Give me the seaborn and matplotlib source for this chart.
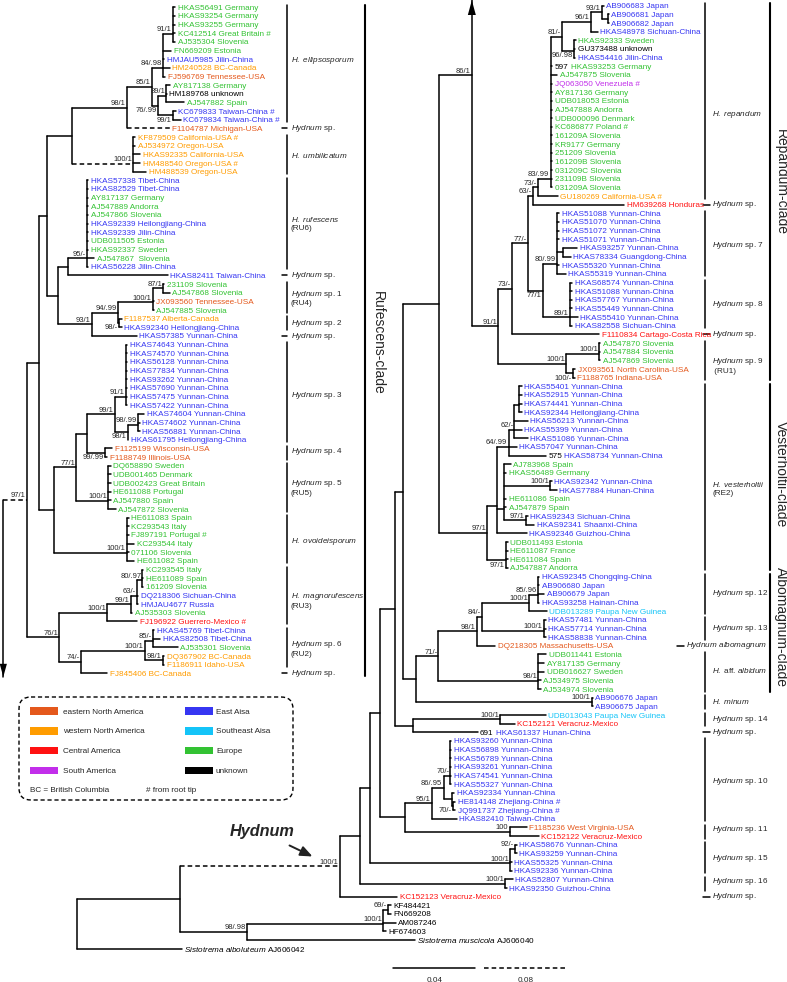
import re
import matplotlib
matplotlib.use('Agg')
import matplotlib.pyplot as plt
from matplotlib.patches import FancyBboxPatch, Polygon, Rectangle
import seaborn as sns
import pandas as pd

sns.set_theme(style="white")
plt.rcParams['font.family'] = ['Liberation Sans', 'DejaVu Sans']
plt.rcParams['mathtext.fontset'] = 'custom'
plt.rcParams['mathtext.rm'] = 'Liberation Sans'
plt.rcParams['mathtext.it'] = 'Liberation Sans:italic'
plt.rcParams['mathtext.bf'] = 'Liberation Sans:bold'

# ---------------------------------------------------------------- data
# region codes: E eastern N. America, W western N. America, C Central America,
# S South America, A East Asia, T Southeast Asia, U Europe, K unknown
REGION_COLORS = {
    'E': '#E4581C', 'W': '#FF9C00', 'C': '#FF1111', 'S': '#C22EEA',
    'A': '#3636F2', 'T': '#14C4F8', 'U': '#33C233', 'K': '#000000',
}
LEGEND_LABELS = ["eastern North America", "western North America", "Central America",
                 "South America", "East Aisa", "Southeast Aisa", "Europe", "unknown"]
LEGEND_CODES = ['E', 'W', 'C', 'S', 'A', 'T', 'U', 'K']

# Rufescens-clade (left column), top to bottom
LEFT_TAXA = [
    "HKAS56491 Germany", "HKAS93254 Germany", "HKAS93255 Germany",
    "KC412514 Great Britain #", "AJ535304 Slovenia", "FN669209 Estonia",
    "HMJAU5985 Jilin-China", "HM240528 BC-Canada", "FJ596769 Tennessee-USA",
    "AY817138 Germany", "HM189768 unknown", "AJ547882 Spain",
    "KC679833 Taiwan-China #", "KC679834 Taiwan-China #", "F1104787 Michigan-USA",
    "KF879509 California-USA #", "AJ534972 Oregon-USA", "HKAS92335 California-USA",
    "HM488540 Oregon-USA #", "HM488539 Oregon-USA",
    "HKAS57338 Tibet-China", "HKAS82529 Tibet-China", "AY817137 Germany",
    "AJ547889 Andorra", "AJ547866 Slovenia", "HKAS92339 Heilongjiang-China",
    "HKAS92339 Jilin-China", "UDB011505 Estonia", "HKAS92337 Sweden",
    "AJ547867  Slovenia", "HKAS56228 Jilin-China", "HKAS82411 Taiwan-China",
    "231109 Slovenia", "AJ547868 Slovenia", "JX093560 Tennessee-USA",
    "AJ547885 Slovenia", "F1187537 Alberta-Canada", "HKAS92340 Heilongjiang-China",
    "HKAS57385 Yunnan-China",
    "HKAS74643 Yunnan-China", "HKAS74570 Yunnan-China", "HKAS56128 Yunnan-China",
    "HKAS77834 Yunnan-China", "HKAS93262 Yunnan-China", "HKAS57690 Yunnan-China",
    "HKAS57475 Yunnan-China", "HKAS57422 Yunnan-China",
    "HKAS74604 Yunnan-China", "HKAS74602 Yunnan-China", "HKAS56881 Yunnan-China",
    "HKAS61795 Heilongjiang-China",
    "F1125199 Wisconsin-USA", "F1188749 Illinois-USA",
    "DQ658890 Sweden", "UDB001465 Denmark", "UDB002423 Great Britain",
    "HE611088 Portugal", "AJ547880 Spain", "AJ547872 Slovenia",
    "HE611083 Spain", "KC293543 Italy", "FJ897191 Portugal #", "KC293544 Italy",
    "071106 Slovenia", "HE611082 Spain",
    "KC293545 Italy", "HE611089 Spain", "161209 Slovenia", "DQ218306 Sichuan-China",
    "HMJAU4677 Russia", "AJ535303 Slovenia", "FJ196922 Guerrero-Mexico #",
    "HKAS45769 Tibet-China", "HKAS82508 Tibet-China", "AJ535301 Slovenia",
    "DQ367902 BC-Canada", "F1186911 Idaho-USA", "FJ845406 BC-Canada",
]
LEFT_REGION = list("UUUUUUAWEUKUAAEWWWWWAAUUUAAUUUAAUUEUWAA"
                   "AAAAAAAAAAAAEEUUUUUUUUUUUUUUUAAUCAAUWWW")

# rest of the tree (right column), top to bottom, outgroups last
RIGHT_TAXA = [
    "AB906683 Japan", "AB906681 Japan", "AB906682 Japan", "HKAS48978 Sichuan-China",
    "HKAS92333 Sweden", "GU373488 unknown", "HKAS54416 Jilin-China",
    "HKAS93253 Germany", "AJ547875 Slovenia", "JQ063050 Venezuela #",
    "AY817136 Germany", "UDB018053 Estonia", "AJ547888 Andorra", "UDB000096 Denmark",
    "KC686877 Poland #", "161209A Slovenia", "KR9177 Germany", "251209 Slovenia",
    "161209B Slovenia", "031209C Slovenia", "231109B Slovenia", "031209A Slovenia",
    "GU180269 California-USA #", "HM639268 Honduras",
    "HKAS51088 Yunnan-China", "HKAS51070 Yunnan-China", "HKAS51072 Yunnan-China",
    "HKAS51071 Yunnan-China", "HKAS93257 Yunnan-China", "HKAS78334 Guangdong-China",
    "HKAS55320 Yunnan-China", "HKAS55319 Yunnan-China",
    "HKAS68574 Yunnan-China", "HKAS51088 Yunnan-China", "HKAS57767 Yunnan-China",
    "HKAS55449 Yunnan-China", "HKAS55410 Yunnan-China", "HKAS82558 Sichuan-China",
    "F1110834 Cartago-Costa Rica",
    "AJ547870 Slovenia", "AJ547884 Slovenia", "AJ547869 Slovenia",
    "JX093561 North Carolina-USA", "F1188765 Indiana-USA",
    "HKAS55401 Yunnan-China", "HKAS52915 Yunnan-China", "HKAS74441 Yunnan-China",
    "HKAS92344 Heilongjiang-China", "HKAS56213 Yunnan-China", "HKAS55399 Yunnan-China",
    "HKAS51086 Yunnan-China", "HKAS57047 Yunnan-China", "HKAS58734 Yunnan-China",
    "AJ783968 Spain", "HKAS56489 Germany", "HKAS92342 Yunnan-China",
    "HKAS77884 Hunan-China", "HE611086 Spain", "AJ547879 Spain",
    "HKAS92343 Sichuan-China", "HKAS92341 Shaanxi-China", "HKAS92346 Guizhou-China",
    "UDB011493 Estonia", "HE611087 France", "HE611084 Spain", "AJ547887 Andorra",
    "HKAS92345 Chongqing-China", "AB906680 Japan", "AB906679 Japan",
    "HKAS93258 Hainan-China", "UDB013289 Paupa New Guinea",
    "HKAS57481 Yunnan-China", "HKAS57714 Yunnan-China", "HKAS58838 Yunnan-China",
    "DQ218305 Massachusetts-USA",
    "UDB011441 Estonia", "AY817135 Germany", "UDB016627 Sweden",
    "AJ534975 Slovenia", "AJ534974 Slovenia",
    "AB906676 Japan", "AB906675 Japan",
    "UDB013043 Paupa New Guinea", "KC152121 Veracruz-Mexico", "HKAS61337 Hunan-China",
    "HKAS93260 Yunnan-China", "HKAS56898 Yunnan-China", "HKAS56789 Yunnan-China",
    "HKAS93261 Yunnan-China", "HKAS74541 Yunnan-China", "HKAS55327 Yunnan-China",
    "HKAS92334 Yunnan-China", "HE814148 Zhejiang-China #", "JQ991737 Zhejiang-China #",
    "HKAS82410 Taiwan-China",
    "F1185236 West Virginia-USA", "KC152122 Veracruz-Mexico",
    "HKAS58676 Yunnan-China", "HKAS93259 Yunnan-China", "HKAS55325 Yunnan-China",
    "HKAS92336 Yunnan-China", "HKAS52807 Yunnan-China", "HKAS92350 Guizhou-China",
    "KC152123 Veracruz-Mexico",
    "KF484421", "FN669208", "AM087246", "HF674603",
    r"$\mathit{Sistotrema\ muscicola}$ AJ606040",
    r"$\mathit{Sistotrema\ alboluteum}$ AJ606042",
]
RIGHT_REGION = list("AAAAUKAUUSUUUUUUUUUUUUWCAAAAAAAAAAAAAACUUUEE"
                    "AAAAAAAAAUUAAUUAAAUUUUAAAATAAAEUUUUUAATCA"
                    "AAAAAAAAAAECAAAAAACKKKKKK")
RIGHT_PREFIX = {7: "597", 52: "575", 84: "691"}

# trees: Newick pieces, branch lengths in 0.001 subst./site,
# "~" = branch drawn compressed (dashed), "_" = support printed below branch
LEFT_SUBTREES = {
    'ROOT': '({P}:~22.8,DN:0)',
    'P': '(({N}:3.6,{R}:7.3):6.1,{X}:15.9)97/1',
    'N': '(({C}:26.8,(L15:0.9,L16:0.9,L17:3.5,L18:3.5,L19:6.4)100/1:~60.1):12.2,{W}:5.7)',
    'C': '((({G}:4.9,L5:4.3,L6:0.9,L7:3.5,L8:1.4)84/.98:5.4,'
         '((L9:2.0,L10:0.2,L11:8.8)89/1:4.0,(L12:1.2,L13:3.7)_99/1:7.3)_76/.99:3.2)85/1:12.2,'
         'L14:~42.0)98/1',
    'G': '(L0:1.2,L1:1.2,L2:1.2,L3:1.2,L4:1.2)91/1',
    'W': '(((L20:0.7,L21:0.7,L22:0.7,L23:0.7,L24:0.7,L25:0.7,L26:0.7,L27:0.7,L28:0.7,'
         'L29:3.7,L30:0.7)95/-:9.0,L31:48.4):4.9,'
         '((((L32:0.4,L33:3.2)87/1:5.2,L34:0.4,L35:0.4)100/1:16.8,'
         '(L36:1.1,L37:1.1)_98/-:0.5)94/.99:13.0,L38:22.0)93/1:16.3)',
    'R': '((({AB}:13.5,(L51:3.7,L52:1.2)_99/.99:8.6):5.2,'
         '(L53:1.2,L54:1.2,L55:1.2,L56:1.2,L57:1.2,L58:3.7)100/1:15.4)77/1:10.9,'
         '(L59:1.2,L60:1.2,L61:1.0,L62:3.7,L63:1.2,L64:3.7)100/1:35.3)',
    'AB': '((L39:0.7,L40:0.7,L41:0.7,L42:0.7,L43:0.7,L44:0.7,L45:0.7,L46:0.7)91/1:5.4,'
          '((L47:2.9,L48:0.7,L49:0.7)98/.99:5.2,L50:0.4)_98/1:6.2)99/1',
    'X': '(((((L65:0.4,L66:0.4,L67:0.4)80/.97:2.9,L68:0.9,L69:0.9)63/-:2.9,L70:0.9)99/1:11.4,'
         'L71:14.7)100/1:23.4,'
         '(((L72:0.7,L73:3.7,L74:12.1)85/-:3.8,(L75:0.7,L76:0.7)98/1:8.6)100/1:31.4,'
         'L77:13.1)74/-:10.4)76/1',
}
RIGHT_SUBTREES = {
    'ROOT': '({IN}:50.4,R109:51.3)',
    'IN': '({H0}:~156.1,{O0}:32.5)',
    'O0': '(((R104:1.2,R105:1.2)69/-:2.4,R106:6.1,R107:1.2)100/1:66.6,R108:82.1)98/.98',
    'H0': '({H1}:9.8,R103:28.0)100/1',
    'H1': '({H2}:4.9,(R101:3.7,R102:0.9)100/1:70.7)',
    'H2': '({H3}:4.9,((R97:0.9,R98:0.9)92/-:2.4,R99:0.7,R100:0.7)100/1:68.3)',
    'H3': '({AO}:7.3,{H4}:12.2)',
    'H4': '({S10}:13.0,(R95:8.5,R96:14.2)100:50.9)',
    'S10': '(((R85:0.4,R86:0.4,R87:0.4,R88:0.4,R89:0.4,R90:0.4)70/-:3.3,'
           '(R91:1.2,(R92:1.0,R93:1.0)_70/-:0.5):4.1)86/.95:5.7,R94:12.2)95/1',
    'AO': '({RT}:4.0,((R82:22.3,R83:7.2)100/1:42.3,R84:31.3):8.9)',
    'RT': '({RR}:17.6,{AM}:6.2)',
    'RR': '((UP:0,{RP}:13.0)86/1:15.8,{VV}:23.4)',
    'RP': '({RQ}:6.5,{SP9}:33.0)91/1',
    'RQ': '(({J7}:2.4,{S78}:7.0)77/-:8.1,R38:42.7)73/-',
    'J7': '(({J5}:6.0,R22:9.4)73/-:2.4,R23:44.3)63/-',
    'J5': '({J3}:5.7,R7:0.9,R8:3.3,R9:0.9,R10:0.9,R11:0.9,R12:0.9,R13:0.9,R14:0.9,'
          'R15:0.9,R16:0.9,R17:0.9,R18:0.9,R19:0.9,R20:0.9,R21:0.9)83/.99',
    'J3': '(((R0:0.9,(R1:0.4,R2:0.4):2.9)93/1:5.4,R3:3.3)96/1:13.9,'
          '(R4:0.9,R5:0.6,R6:0.6)_96/.98:5.7)81/-',
    'S78': '((R24:1.2,R25:1.2,R26:1.2,R27:1.2,(R28:6.9,R29:3.7):3.2,R30:1.2,R31:4.4)80/.99:6.8,'
           '(R32:1.2,R33:1.2,R34:1.2,R35:1.2,R36:3.7,R37:1.2)89/1:13.3)_77/1',
    'SP9': '((R39:0.6,R40:0.6,R41:0.6)100/1:16.1,(R42:1.2,R43:1.0)_100/-:3.3)100/1',
    'VV': '(({VW}:5.7,{VY}:3.6,R61:14.7):4.6,(R62:0.7,R63:0.7,R64:0.7,R65:0.7)_97/1:9.1)97/1',
    'VW': '(((R44:1.1,R45:1.1,R46:1.1,R47:1.1):2.4,R48:6.4,R49:3.5,R50:6.4)62/-:2.9,'
          'R51:4.0,R52:18.1)64/.99',
    'VY': '(R53:3.3,R54:0.9,(R55:0.7,R56:3.3)100/1:22.4,R57:0.9,R58:0.9,'
          '(R59:0.7,R60:4.0)97/1:10.7)',
    'AM': '(({AQ}:18.7,(R75:3.7,R76:2.9,R77:2.9,R78:1.2,R79:1.2)98/1:48.8)71/-:10.9,'
          '(R80:0.4,R81:0.4)100/1:85.7)',
    'AQ': '((((R66:0.4,R67:0.4,R68:2.9,R69:0.4)85/.96:4.4,R70:8.5)100/1:23.2,'
          '(R71:0.9,R72:0.9,R73:0.9)100/1:30.4)84/-:2.4,R74:9.0)98/1',
}

# species brackets: (first row, last row, label, label row, x shift)
LEFT_GROUPS = [
    (0, 13, r'$\mathit{H.\ ellipsosporum}$', 6.2, 0),
    (14, 14, r'$\mathit{Hydnum}$ sp.', 14, 0),
    (15, 19, r'$\mathit{H.\ umbilicatum}$', 17.1, 0),
    (20, 30, r'$\mathit{H.\ rufescens}$' + '\n(RU6)', 25.0, 0),
    (31, 31, r'$\mathit{Hydnum}$ sp.', 31, 0),
    (32, 35, r'$\mathit{Hydnum}$ sp. 1' + '\n(RU4)', 33.6, 0),
    (36, 37, r'$\mathit{Hydnum}$ sp. 2', 36.6, 0),
    (38, 38, r'$\mathit{Hydnum}$ sp.', 38, 0),
    (39, 50, r'$\mathit{Hydnum}$ sp. 3', 44.9, 0),
    (51, 52, r'$\mathit{Hydnum}$ sp. 4', 51.4, 0),
    (53, 58, r'$\mathit{Hydnum}$ sp. 5' + '\n(RU5)', 55.5, 0),
    (59, 64, r'$\mathit{H.\ ovoideisporum}$', 61.7, 0),
    (65, 71, r'$\mathit{H.\ magnorufescens}$' + '\n(RU3)', 68.6, 0),
    (72, 76, r'$\mathit{Hydnum}$ sp. 6' + '\n(RU2)', 74.1, 0),
    (77, 77, r'$\mathit{Hydnum}$ sp.', 77, 0),
]
RIGHT_GROUPS = [
    (0, 22, r'$\mathit{H.\ repandum}$', 12.6, 0),
    (23, 23, r'$\mathit{Hydnum}$ sp.', 23, 0),
    (24, 31, r'$\mathit{Hydnum}$ sp. 7', 27.7, 0),
    (32, 37, r'$\mathit{Hydnum}$ sp. 8', 34.6, 0),
    (38, 38, r'$\mathit{Hydnum}$ sp.', 38, 0),
    (39, 43, r'$\mathit{Hydnum}$ sp. 9' + '\n (RU1)', 41.6, 0),
    (44, 65, r'$\mathit{H.\ vesterholtii}$' + '\n(RE2)', 55.8, 0),
    (66, 70, r'$\mathit{Hydnum}$ sp. 12', 67.9, 0),
    (71, 73, r'$\mathit{Hydnum}$ sp. 13', 72.0, 0),
    (74, 74, r'$\mathit{Hydnum\ albomagnum}$', 74, -26),
    (75, 79, r'$\mathit{H.}$ aff. $\mathit{albidum}$', 76.9, 0),
    (80, 81, r'$\mathit{H.\ minum}$', 80.4, 0),
    (82, 83, r'$\mathit{Hydnum}$ sp. 14', 82.5, 0),
    (84, 84, r'$\mathit{Hydnum}$ sp.', 84, 0),
    (85, 94, r'$\mathit{Hydnum}$ sp. 10', 89.7, 0),
    (95, 96, r'$\mathit{Hydnum}$ sp. 11', 95.2, 0),
    (97, 100, r'$\mathit{Hydnum}$ sp. 15', 98.6, 0),
    (101, 102, r'$\mathit{Hydnum}$ sp. 16', 101.3, 0),
    (103, 103, r'$\mathit{Hydnum}$ sp.', 103, 0),
]
# major clades: (side, first row, last row, name, label row)
CLADES = [
    ('L', 0, 77, 'Rufescens-clade', 38.8),
    ('R', 0, 43, 'Repandum-clade', 20.4),
    ('R', 44, 65, 'Vesterholtii-clade', 54.1),
    ('R', 66, 79, 'Albomagnum-clade', 71.8),
]
SCALE_BARS = [0.04, 0.08]

# ---------------------------------------------------------------- layout
W, H = 787, 982
ROW_PX = 8.65
TOP_Y = {'L': 7.3, 'R': 5.7}
ORIGIN_X = {'L': 3.3, 'R': 76.7}
SOLID_PX = 2.05           # px per 0.001 subst./site (0.04 -> 82 px)
DASH_PX = SOLID_PX / 2    # compressed branches
CONNECTOR_ROWS = {'UP': -21.0, 'DN': 77.4}
TEXT_PAD = 2.5
PANEL = {'L': dict(bx=286.7, lx=290.7, dash=(281.7, 287.3), cx=365.0, ctx=377.5),
         'R': dict(bx=705.0, lx=712.3, dash=(703.0, 709.5), cx=770.0, ctx=781.0)}
LEAF_FS, SUP_FS, SP_FS = 5.9, 5.5, 5.9


def row_y(side, r):
    return TOP_Y[side] + r * ROW_PX


def expand(subtrees, key):
    return re.sub(r'\{(\w+)\}', lambda m: expand(subtrees, m.group(1)), subtrees[key])


def parse(s):
    s = re.sub(r'\s+', '', s)
    pos = 0

    def node():
        nonlocal pos
        kids = []
        if s[pos] == '(':
            pos += 1
            kids.append(node())
            while s[pos] == ',':
                pos += 1
                kids.append(node())
            pos += 1
        start = pos
        while pos < len(s) and s[pos] not in ':,()':
            pos += 1
        name = s[start:pos]
        length, dashed = 0.0, False
        if pos < len(s) and s[pos] == ':':
            pos += 1
            if s[pos] == '~':
                dashed = True
                pos += 1
            start = pos
            while pos < len(s) and s[pos] not in ',()':
                pos += 1
            length = float(s[start:pos])
        return dict(name=name, children=kids, length=length, dashed=dashed)

    return node()


def layout(nd, x_parent, side):
    nd['xp'] = x_parent
    nd['x'] = x_parent + nd['length'] * (DASH_PX if nd['dashed'] else SOLID_PX)
    kids = nd['children']
    if kids:
        for c in kids:
            layout(c, nd['x'], side)
        y = kids[0]['y']
        for c in kids[1:]:   # nested (ladder) placement of polytomies
            y = (y + c['y']) / 2
        nd['y'] = y
    else:
        name = nd['name']
        r = CONNECTOR_ROWS[name] if name in CONNECTOR_ROWS else int(name[1:])
        nd['y'] = row_y(side, r)


def collect(nd, segs, leaves, inner, root=False):
    if not root:
        segs.append((nd['xp'], nd['y'], nd['x'], nd['y'], nd['dashed']))
    if nd['children']:
        kids = nd['children']
        segs.append((nd['x'], kids[0]['y'], nd['x'], kids[-1]['y'], False))
        if nd['name']:
            inner.append(nd)
        for c in kids:
            collect(c, segs, leaves, inner)
    else:
        leaves.append(nd)


fig = plt.figure(figsize=(W / 100, H / 100), dpi=100)
ax = fig.add_axes([0, 0, 1, 1])
renderer = fig.canvas.get_renderer()

trees = {}
segs, leaves, inner = [], [], []
for side, subtrees in (('L', LEFT_SUBTREES), ('R', RIGHT_SUBTREES)):
    root = parse(expand(subtrees, 'ROOT'))
    layout(root, ORIGIN_X[side], side)
    trees[side] = root
    lv = []
    collect(root, segs, lv, inner, root=True)
    leaves += [(side, n) for n in lv]

rows = []
for i, (x0, y0, x1, y1, d) in enumerate(segs):
    rows.append(dict(seg=i, x=x0, y=y0, dashed=d))
    rows.append(dict(seg=i, x=x1, y=y1, dashed=d))
seg_df = pd.DataFrame(rows)

sns.lineplot(data=seg_df[~seg_df['dashed']], x='x', y='y', units='seg', estimator=None,
             sort=False, color='black', linewidth=1.1, ax=ax, legend=False)
sns.lineplot(data=seg_df[seg_df['dashed']], x='x', y='y', units='seg', estimator=None,
             sort=False, color='black', linewidth=1.1, linestyle=(0, (3, 2)), ax=ax,
             legend=False)

# tip labels
for side, nd in leaves:
    name = nd['name']
    if name == 'UP':
        x = nd['x']
        ax.add_patch(Polygon([(x - 4, 15), (x + 4, 15), (x, 0.3)], closed=True,
                             color='black', lw=0))
        continue
    if name == 'DN':
        x, y = nd['x'], nd['y']
        ax.add_patch(Polygon([(x - 3.6, y - 13), (x + 3.6, y - 13), (x, y)], closed=True,
                             color='black', lw=0))
        continue
    idx = int(name[1:])
    taxa = LEFT_TAXA if side == 'L' else RIGHT_TAXA
    regions = LEFT_REGION if side == 'L' else RIGHT_REGION
    x, y = nd['x'] + TEXT_PAD, nd['y']
    if side == 'R' and idx in RIGHT_PREFIX:
        t = ax.text(x, y, RIGHT_PREFIX[idx], fontsize=LEAF_FS, color='black',
                    ha='left', va='center_baseline')
        x += t.get_window_extent(renderer=renderer).width + 2.3
    ax.text(x, y, taxa[idx], fontsize=LEAF_FS, color=REGION_COLORS[regions[idx]],
            ha='left', va='center_baseline')

# support values
for nd in inner:
    lab = nd['name']
    if lab.startswith('_'):
        ax.text(nd['x'] - 1.2, nd['y'] + 1.2, lab[1:], fontsize=SUP_FS, ha='right', va='top')
    else:
        ax.text(nd['x'] - 1.2, nd['y'] - 0.6, lab, fontsize=SUP_FS, ha='right', va='bottom')

# species brackets
for side, groups in (('L', LEFT_GROUPS), ('R', RIGHT_GROUPS)):
    p = PANEL[side]
    for first, last, label, lrow, dx in groups:
        if first == last:
            y = row_y(side, first)
            ax.plot([p['dash'][0] + dx, p['dash'][1] + dx], [y, y], color='black', lw=1.1)
            ax.text(p['lx'] + dx, y, label, fontsize=SP_FS, ha='left', va='center')
        else:
            ax.plot([p['bx'], p['bx']], [row_y(side, first) - 2.5, row_y(side, last) + 2.5],
                    color='black', lw=1.1)
            ax.text(p['lx'], row_y(side, lrow), label, fontsize=SP_FS, ha='left',
                    va='center', linespacing=1.1)

# clade brackets
for side, first, last, name, lrow in CLADES:
    p = PANEL[side]
    ax.plot([p['cx'], p['cx']], [row_y(side, first) - 2.5, row_y(side, last) + 2.5],
            color='black', lw=1.5)
    ax.text(p['ctx'], row_y(side, lrow), name, fontsize=10, rotation=270,
            ha='center', va='center')

# "Hydnum" pointer to the crown node of the genus
h0 = trees['R']['children'][0]['children'][0]
ax.text(h0['x'] - 78, h0['y'] - 35, 'Hydnum', fontsize=11.7, fontweight='bold',
        fontstyle='italic', ha='center', va='center')
ax.annotate('', xy=(h0['x'] - 25, h0['y'] - 8.6), xytext=(h0['x'] - 53, h0['y'] - 22),
            arrowprops=dict(arrowstyle='-|>,head_length=0.6,head_width=0.25',
                            color='#222222', lw=1.4))

# legend
ax.add_patch(FancyBboxPatch((19, 697), 274, 103, boxstyle='round,pad=0,rounding_size=12',
                            fill=False, ec='black', lw=1.0, ls=(0, (3, 2))))
for i, (lab, code) in enumerate(zip(LEGEND_LABELS, LEGEND_CODES)):
    col, r = divmod(i, 4)
    sx = 30 if col == 0 else 185
    ty = 711 + r * 19.9
    ax.add_patch(Rectangle((sx, ty - 3.7), 28.3, 7.4, color=REGION_COLORS[code], lw=0))
    ax.text(sx + 33.3 if col == 0 else sx + 31, ty, lab, fontsize=LEAF_FS,
            ha='left', va='center_baseline')
ax.text(30, 789, 'BC = British Columbia', fontsize=LEAF_FS, ha='left', va='center_baseline')
ax.text(146, 789, '# from root tip', fontsize=LEAF_FS, ha='left', va='center_baseline')

# scale bars
sx = 393.3
for val, px, ls in ((SCALE_BARS[0], SOLID_PX, '-'), (SCALE_BARS[1], DASH_PX, (0, (3, 2)))):
    length = val * 1000 * px
    ax.plot([sx, sx + length], [968, 968], color='black', lw=1.1, ls=ls)
    ax.text(sx + length / 2, 979, f'{val:.2f}', fontsize=LEAF_FS, ha='center',
            va='center_baseline')
    sx += length + 9

ax.set_xlim(0, W)
ax.set_ylim(H, 0)
ax.axis('off')
fig.savefig('out.png', dpi=100, facecolor='white')
